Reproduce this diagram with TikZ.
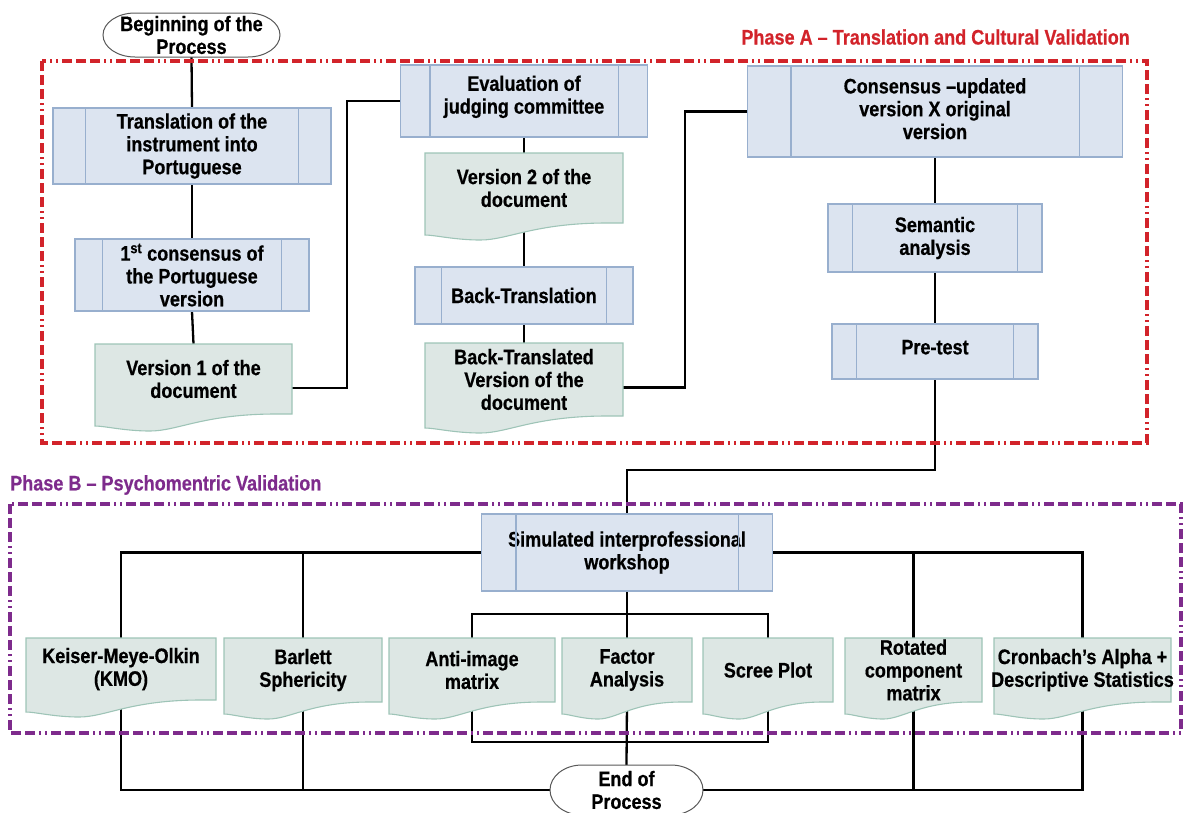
\documentclass[tikz,border=0pt]{standalone}
\usepackage{fontspec}
\setmainfont{Liberation Sans}[FakeStretch=0.86,FakeBold=0.6]
\usetikzlibrary{calc}
\pgfdeclarelayer{background}
\pgfsetlayers{background,main}
\definecolor{procfill}{HTML}{DCE4F0}
\definecolor{procdraw}{HTML}{98AFCE}
\definecolor{docfill}{HTML}{DDE7E4}
\definecolor{docdraw}{HTML}{9EC4B7}
\definecolor{phaseA}{HTML}{D2232A}
\definecolor{phaseB}{HTML}{7E2B8C}
\tikzset{
  lbl/.style={font=\fontsize{21}{22.8}\selectfont\bfseries, align=center, inner sep=0pt},
  proc/.style={lbl, draw=procdraw, fill=procfill, line width=1.1pt},
  procline/.style={draw=procdraw, line width=1.1pt},
  docshape/.style={draw=docdraw, fill=docfill, line width=1.1pt},
  doctext/.style={lbl},
  termshape/.style={draw=black!65, fill=white, line width=1pt},
  conn/.style={draw=black, line width=2.3pt},
  phasebox/.style={line width=3.2pt, dash pattern=on 10pt off 4pt on 10pt off 4pt on 10pt off 4pt on 2pt off 4pt on 2pt off 4pt},
  phaselbl/.style={font=\fontsize{21}{22}\selectfont\bfseries, inner sep=0pt}
}
\newcommand\procnode[7]{%
  \node[proc, minimum width=#4pt, minimum height=#5pt] (#1) at (#2,#3) {#7};
  \draw[procline] ([xshift=#6pt]#1.north west) -- ([xshift=#6pt]#1.south west);
  \draw[procline] ([xshift=-#6pt]#1.north east) -- ([xshift=-#6pt]#1.south east);}
\newcommand\docnode[6]{%
  \pgfmathsetmacro\dw{#3-#2}\pgfmathsetmacro\dh{#5-#4}%
  \path[docshape] (#2,#4) -- (#3,#4) -- (#3,#5) -- ({#3-0.08*\dw},#5)
    .. controls ({#2+0.55*\dw},#5) and ({#2+0.42*\dw},#5+17) .. ({#2+0.28*\dw},#5+17)
    .. controls ({#2+0.15*\dw},#5+17) and ({#2+0.05*\dw},#5+12) .. (#2,#5+12) -- cycle;
  \node[doctext, minimum width=\dw pt, minimum height=\dh pt] (#1) at ({(#2+#3)/2},{(#4+#5)/2}) {#6};}
% terminator: name, L, R, top, bottom, end radius, text
\newcommand\termnode[7]{%
  \pgfmathsetmacro\tw{#3-#2}\pgfmathsetmacro\th{#5-#4}\pgfmathsetmacro\ty{(#4+#5)/2}\pgfmathsetmacro\tr{\th/2}%
  \path[termshape] (#2+#6,#4) -- (#3-#6,#4)
    .. controls (#3-#6+0.552*#6,#4) and (#3,\ty-0.552*\tr) .. (#3,\ty)
    .. controls (#3,\ty+0.552*\tr) and (#3-#6+0.552*#6,#5) .. (#3-#6,#5)
    -- (#2+#6,#5)
    .. controls (#2+#6-0.552*#6,#5) and (#2,\ty+0.552*\tr) .. (#2,\ty)
    .. controls (#2,\ty-0.552*\tr) and (#2+#6-0.552*#6,#4) .. (#2+#6,#4) -- cycle;
  \node[lbl, minimum width=\tw pt, minimum height=\th pt] (#1) at ({(#2+#3)/2},\ty) {#7};}
\begin{document}
\begin{tikzpicture}[x=1pt,y=-1pt]
\useasboundingbox (0,0) rectangle (1184,812);
% phase frames
\draw[phasebox, draw=phaseA] (42,61) rectangle (1147,443);
\draw[phasebox, draw=phaseB] (10,504) rectangle (1181,733);
\node[phaselbl, text=phaseA, anchor=east] (pa) at (1130,37) {Phase A -- Translation and Cultural Validation};
\node[phaselbl, text=phaseB, anchor=west] (pb) at (10,485) {Phase B -- Psychomentric Validation};
% terminators
\termnode{begin}{103}{280}{13}{57}{32}{Beginning of the\\Process}
\termnode{end}{550}{703}{765}{815}{32}{End of\\Process}
% process boxes
\procnode{trans}{192}{146}{278}{76}{33}{Translation of the\\instrument into\\Portuguese}
\procnode{cons1}{192}{275}{234}{72}{28}{1\textsuperscript{st} consensus of\\the Portuguese\\version}
\procnode{eval}{524}{101}{247}{72}{30}{Evaluation of\\judging committee\\[-10pt]}
\procnode{back}{524}{295.5}{218}{57}{27}{Back-Translation}
\procnode{cons}{935}{111.5}{375}{91}{44}{Consensus --updated\\version X original\\version\\[-17pt]}
\procnode{sem}{935}{238}{214}{68}{25}{Semantic\\analysis}
\procnode{pre}{935}{351.5}{206}{55}{25}{Pre-test\\[-14pt]}
\procnode{sim}{627}{552.5}{291}{77}{35}{Simulated interprofessional\\workshop}
% documents
\docnode{v1}{95}{292}{344}{414}{Version 1 of the\\document}
\docnode{v2}{425}{623}{153}{223}{Version 2 of the\\document}
\docnode{btd}{425}{623}{343}{416}{Back-Translated\\Version of the\\document}
\docnode{kmo}{26}{216}{638}{700}{Keiser-Meye-Olkin\\(KMO)}
\docnode{bar}{224}{382}{638}{702}{Barlett\\Sphericity}
\docnode{anti}{389}{555}{638}{702}{Anti-image\\matrix}
\docnode{fac}{562}{692}{638}{702}{Factor\\Analysis}
\docnode{scree}{703}{833}{638}{702}{Scree Plot}
\docnode{rot}{845}{982}{638}{702}{Rotated\\component\\matrix}
\docnode{cron}{994}{1171}{638}{702}{Cronbach’s Alpha +\\Descriptive Statistics}
\coordinate (jt) at (627,614);
\coordinate (jb) at (627,742);
\coordinate (jp) at (935,470);
% connectors
\begin{pgfonlayer}{background}
\draw[conn] (begin.south) -- (trans.north);
\draw[conn] (trans.south) -- (cons1.north);
\draw[conn] (cons1.south) -- (v1.north);
\draw[conn] ([yshift=-9pt]v1.east) -- ++(55,0) |- (eval.west);
\draw[conn] (eval.south) -- (v2.north);
\draw[conn] (v2.south) -- (back.north);
\draw[conn] (back.south) -- (btd.north);
\draw[conn] ([yshift=-8pt]btd.east) -- ++(62,0) |- (cons.west);
\draw[conn] (cons.south) -- (sem.north);
\draw[conn] (sem.south) -- (pre.north);
\draw[conn] (pre.south) -- (jp) -| (sim.north);
\draw[conn] (sim.west) -| (kmo.north);
\draw[conn] (bar.north) -- (bar.north |- sim.west);
\draw[conn] (sim.east) -| (cron.north);
\draw[conn] (rot.north) -- (rot.north |- sim.east);
\draw[conn] (sim.south) -- (fac.north);
\draw[conn] (anti.north) |- (jt) -| (scree.north);
\draw[conn] (fac.south) -- (end.north);
\draw[conn] (anti.south) |- (jb) -| (scree.south);
\draw[conn] (kmo.south) |- (end.west);
\draw[conn] (bar.south) -- (bar.south |- end.west);
\draw[conn] (cron.south) |- (end.east);
\draw[conn] (rot.south) -- (rot.south |- end.east);
\end{pgfonlayer}
\end{tikzpicture}
\end{document}
